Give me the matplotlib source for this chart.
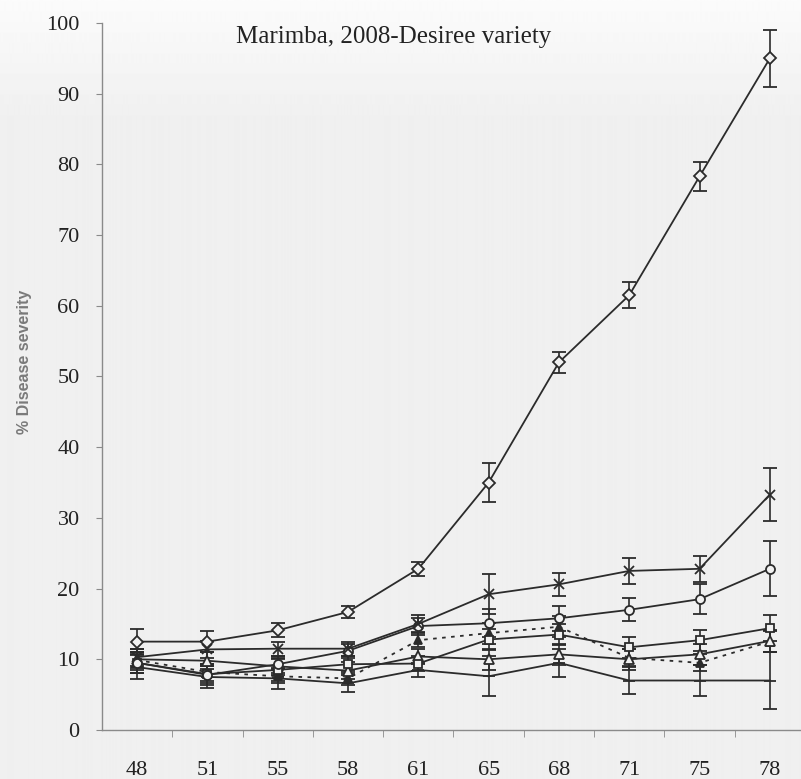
import numpy as np
import matplotlib.pyplot as plt

# Days after planting and mean % severity (+/- SE) for each treatment
days = ['48', '51', '55', '58', '61', '65', '68', '71', '75', '78']

sev_diamond = [12.5, 12.5, 14.1, 16.7, 22.8, 35.0, 52.0, 61.5, 78.3, 95.0]
err_diamond = [1.8, 1.5, 1.0, 0.8, 1.0, 2.7, 1.5, 1.8, 2.0, 4.0]

sev_cross = [10.3, 11.4, 11.5, 11.5, 15.0, 19.2, 20.6, 22.5, 22.8, 33.3]
err_cross = [1.2, 1.2, 1.0, 1.0, 1.2, 2.8, 1.6, 1.8, 1.8, 3.8]

sev_circle = [9.5, 7.8, 9.3, 11.2, 14.7, 15.1, 15.8, 17.0, 18.5, 22.8]
err_circle = [1.5, 1.5, 1.2, 1.0, 1.2, 2.0, 1.8, 1.6, 2.1, 3.9]

sev_square = [9.5, 7.9, 8.5, 9.3, 9.4, 12.8, 13.5, 11.7, 12.7, 14.4]
err_square = [1.5, 1.2, 1.5, 1.2, 1.0, 1.5, 1.5, 1.5, 1.5, 1.8]

sev_triangle = [10.0, 9.8, 9.0, 8.4, 10.4, 10.0, 10.7, 10.0, 10.7, 12.6]
err_triangle = [1.5, 1.2, 1.2, 1.2, 1.0, 1.5, 1.5, 1.5, 1.5, 1.5]

sev_filled = [9.9, 8.2, 7.6, 7.3, 12.7, 13.7, 14.6, 10.2, 9.5, 12.5]
err_filled = [1.2, 1.2, 1.0, 1.0, 1.0, 1.5, 1.5, 1.2, 1.2, 1.5]

sev_plus = [8.9, 7.5, 7.3, 6.6, 8.5, 7.6, 9.5, 7.0, 7.0, 7.0]
err_plus = [1.7, 1.5, 1.5, 1.2, 1.0, 2.8, 2.0, 1.9, 2.2, 4.0]

ink = '#2b2b2b'
paper = '#f1f1f1'

fig = plt.figure(figsize=(8.01, 7.79), dpi=100)

# soft paper background, a bit brighter at the top
bg = fig.add_axes([0, 0, 1, 1], zorder=-5)
grad = np.concatenate([np.linspace(0.985, 0.94, 120), np.full(659, 0.94)])
bg.imshow(np.repeat(grad[:, None], 2, axis=1), cmap='gray', vmin=0, vmax=1,
          aspect='auto', extent=[0, 1, 0, 1])
bg.axis('off')

ax = fig.add_axes([0.1273, 0.0629, 0.8777, 0.9076])
ax.set_facecolor('none')
x = np.arange(len(days))

series = [
    (sev_plus, err_plus, '_', ink, '-', 9),
    (sev_filled, err_filled, '^', ink, (0, (2, 3)), 6),
    (sev_triangle, err_triangle, '^', paper, '-', 6.5),
    (sev_square, err_square, 's', paper, '-', 6),
    (sev_circle, err_circle, 'o', paper, '-', 6.5),
    (sev_cross, err_cross, 'x', ink, '-', 7),
    (sev_diamond, err_diamond, 'D', paper, '-', 6),
]
for sev, err, mk, fc, ls, ms in series:
    ax.errorbar(x, sev, yerr=err, color=ink, ecolor=ink, linestyle=ls, lw=1.3,
                marker=mk, ms=ms, mfc=fc, mec=ink, mew=1.3,
                elinewidth=1.2, capsize=5, capthick=1.3)

ax.set_xlim(-0.5, len(days) - 0.5)
ax.set_ylim(0, 100)
ax.set_yticks(range(0, 101, 10))
ax.set_xticks(x)
ax.set_xticklabels(days)
ax.set_xticks(x[:-1] + 0.5, minor=True)

for s in ['top', 'right']:
    ax.spines[s].set_visible(False)
for s in ['left', 'bottom']:
    ax.spines[s].set_color('#8a8a8a')
    ax.spines[s].set_linewidth(1.0)

ax.tick_params(axis='x', which='major', length=0, pad=22)
ax.tick_params(axis='x', which='minor', length=5, color='#8a8a8a')
ax.tick_params(axis='y', length=4, color='#8a8a8a', pad=12)
for lab in ax.get_xticklabels() + ax.get_yticklabels():
    lab.set_fontfamily('Liberation Serif')
    lab.set_fontsize(16)
    lab.set_color('#222222')

fig.text(394 / 801, 1 - 37 / 779, 'Marimba, 2008-Desiree variety',
         family='Liberation Serif', fontsize=18, color='#222222',
         ha='center', va='center')
fig.text(25 / 801, 1 - 362 / 779, '% Disease severity', family='Liberation Sans',
         fontsize=11.5, color='#7a7a7a', fontweight='bold', rotation=90,
         ha='center', va='center')

fig.savefig('out.png', dpi=100)
